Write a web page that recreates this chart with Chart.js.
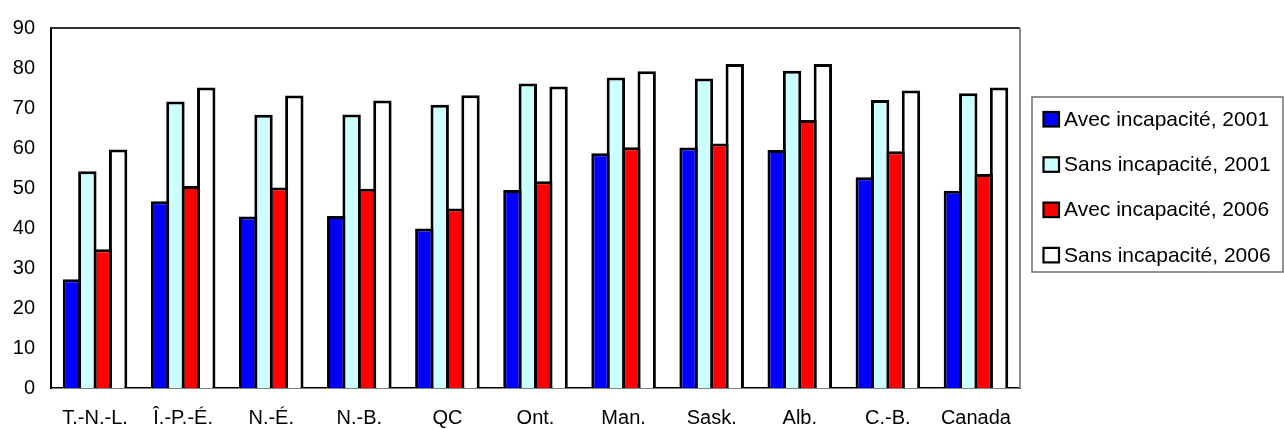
<!DOCTYPE html>
<html>
<head>
<meta charset="utf-8">
<script src="https://cdn.jsdelivr.net/npm/chart.js@4/dist/chart.umd.min.js"></script>
<style>
  html, body { margin: 0; padding: 0; background: #ffffff; }
  #wrap { width: 1284px; height: 429px; }
</style>
</head>
<body>
<div id="wrap"><canvas id="chart" width="1284" height="429"></canvas></div>
<script>
// Taux d'emploi selon la province, avec et sans incapacité, 2001 et 2006
const categories = ['T.-N.-L.', 'Î.-P.-É.', 'N.-É.', 'N.-B.', 'QC', 'Ont.', 'Man.', 'Sask.', 'Alb.', 'C.-B.', 'Canada'];
const avec2001 = [27.2, 46.7, 42.9, 43.0, 39.9, 49.5, 58.7, 60.1, 59.5, 52.7, 49.3];
const sans2001 = [54.2, 71.6, 68.3, 68.4, 70.8, 76.1, 77.6, 77.4, 79.3, 72.0, 73.7];
const avec2006 = [34.7, 50.5, 50.1, 49.8, 44.9, 51.7, 60.2, 61.1, 67.0, 59.2, 53.5];
const sans2006 = [59.6, 75.1, 73.1, 71.9, 73.2, 75.4, 79.2, 81.0, 81.0, 74.4, 75.1];
const seriesLabels = ['Avec incapacité, 2001', 'Sans incapacité, 2001', 'Avec incapacité, 2006', 'Sans incapacité, 2006'];
const yTicks = [0, 10, 20, 30, 40, 50, 60, 70, 80, 90];

const fillColors = ['#0000ff', '#ccffff', '#ff0000', '#ffffff'];
const FONT = '"Liberation Sans", Arial, sans-serif';

// Bars are slightly wider than their slot so neighbouring outlines overlap into one stroke
const seriesValues = [avec2001, sans2001, avec2006, sans2006];
const datasets = seriesValues.map((vals, i) => ({
  label: seriesLabels[i],
  data: vals,
  backgroundColor: fillColors[i],
  borderColor: '#000000',
  borderWidth: 3,
  borderSkipped: 'start',
  barPercentage: 1.195,
  categoryPercentage: 0.699
}));

// Plot frame (top and right edges) and the boxed legend on the right
const framePlugin = {
  id: 'frame',
  afterDraw(chart) {
    const { ctx, chartArea: a } = chart;
    ctx.save();
    ctx.lineWidth = 2;
    ctx.strokeStyle = '#333333';
    ctx.beginPath();
    ctx.moveTo(a.left, a.top);
    ctx.lineTo(a.right, a.top);
    ctx.stroke();
    ctx.strokeStyle = '#8a8a8a';
    ctx.beginPath();
    ctx.moveTo(a.right, a.top);
    ctx.lineTo(a.right, a.bottom);
    ctx.stroke();

    // legend
    const box = { x: 1032, y: 97, w: 251, h: 175 };
    ctx.lineWidth = 1.5;
    ctx.strokeStyle = '#6e6e6e';
    ctx.strokeRect(box.x, box.y, box.w, box.h);
    ctx.font = '21px ' + FONT;
    ctx.textBaseline = 'middle';
    ctx.textAlign = 'left';
    chart.data.datasets.forEach((ds, i) => {
      const cy = 119 + i * 45.3;
      ctx.fillStyle = ds.backgroundColor;
      ctx.fillRect(1043.5, cy - 7, 15.5, 14.5);
      ctx.lineWidth = 2.2;
      ctx.strokeStyle = '#000000';
      ctx.strokeRect(1043.5, cy - 7, 15.5, 14.5);
      ctx.fillStyle = '#000000';
      ctx.fillText(ds.label, 1064, cy + 1);
    });
    ctx.restore();
  }
};

new Chart(document.getElementById('chart'), {
  type: 'bar',
  data: { labels: categories, datasets },
  options: {
    responsive: false,
    animation: false,
    events: [],
    layout: { padding: { top: 19, right: 264, left: 0, bottom: 0 } },
    plugins: {
      legend: { display: false },
      tooltip: { enabled: false }
    },
    scales: {
      x: {
        grid: { display: false, drawTicks: false },
        border: { display: true, color: '#000000', width: 1.5 },
        ticks: {
          color: '#000000',
          font: { family: FONT, size: 20 },
          padding: 18,
          maxRotation: 0,
          autoSkip: false
        },
        afterFit(scale) { scale.height = 41; }
      },
      y: {
        min: 0,
        max: 90,
        grid: { display: false, drawTicks: false },
        border: { display: true, color: '#000000', width: 2 },
        afterBuildTicks(scale) { scale.ticks = yTicks.map(v => ({ value: v })); },
        ticks: {
          color: '#000000',
          font: { family: FONT, size: 20 },
          padding: 16
        },
        afterFit(scale) { scale.width = 51; }
      }
    }
  },
  plugins: [framePlugin]
});
</script>
</body>
</html>
